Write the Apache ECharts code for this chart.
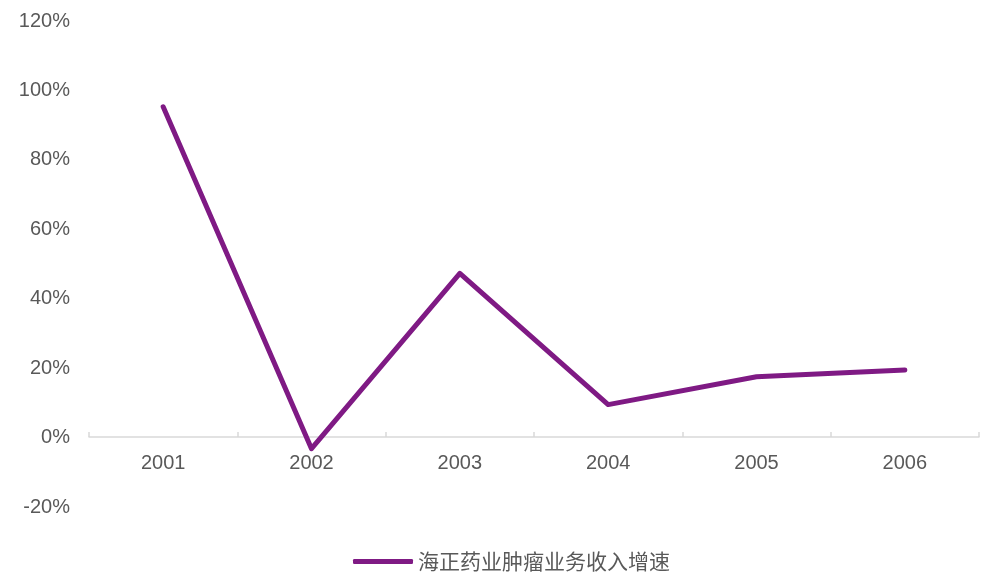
<!DOCTYPE html>
<html><head><meta charset="utf-8">
<script src="https://cdn.jsdelivr.net/npm/echarts@6/dist/echarts.min.js"></script>
<style>html,body{margin:0;padding:0;background:#fff}#c{width:992px;height:586px}</style>
</head><body><div id="c"></div>
<script>
const categories = ['2001','2002','2003','2004','2005','2006'];
const growth = [95.3, -3.2, 47.3, 9.5, 17.5, 19.5];
const seriesName = '海正药业肿瘤业务收入增速';
const yMin = -20, yMax = 120, yStep = 20;

const chart = echarts.init(document.getElementById('c'));
chart.setOption({
  animation: false,
  textStyle: {fontFamily: 'Liberation Sans, Arial, sans-serif'},
  grid: {left: 89, right: 13, top: 21, bottom: 79},
  legend: {
    top: 546, left: 348,
    itemWidth: 60, itemHeight: 5, itemGap: 5,
    icon: 'roundRect',
    textStyle: {fontSize: 21, color: '#595959', fontFamily: 'Noto Sans CJK SC'},
    data: [seriesName]
  },
  xAxis: {
    type: 'category', data: categories, boundaryGap: true,
    offset: -70,
    axisLine: {onZero: false, lineStyle: {color: '#d9d9d9', width: 1.5}},
    axisTick: {show: true, inside: true, length: 5, lineStyle: {color: '#d9d9d9', width: 1.5}},
    axisLabel: {color: '#595959', fontSize: 20, margin: 16}
  },
  yAxis: {
    type: 'value', min: yMin, max: yMax, interval: yStep,
    axisLine: {show: false}, axisTick: {show: false}, splitLine: {show: false},
    axisLabel: {color: '#595959', fontSize: 20, margin: 19, formatter: '{value}%'}
  },
  series: [{
    name: seriesName, type: 'line', data: growth,
    symbol: 'none', lineStyle: {color: '#7f1a84', width: 5, cap: 'round', join: 'round'},
    itemStyle: {color: '#7f1a84'}
  }]
});
</script></body></html>
